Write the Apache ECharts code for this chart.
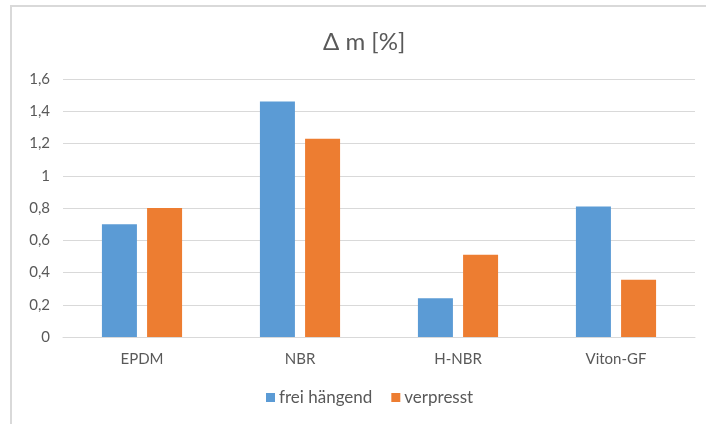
<!DOCTYPE html>
<html>
<head>
<meta charset="utf-8">
<script src="https://cdn.jsdelivr.net/npm/echarts@6/dist/echarts.min.js"></script>
<style>
  html, body { margin: 0; padding: 0; background: #fff; }
  #chart { width: 706px; height: 424px; }
</style>
</head>
<body>
<div id="chart"></div>
<script>
// Materials and measured mass change (%)
const categories = ['EPDM', 'NBR', 'H-NBR', 'Viton-GF'];
const freiHaengend = [0.70, 1.46, 0.24, 0.81];
const verpresst = [0.80, 1.23, 0.51, 0.355];
const seriesNames = ['frei hängend', 'verpresst'];
const titleText = 'Δ m [%]';

const FONT = 'Lato, "Open Sans", sans-serif';
const TEXT = '#595959';

const chart = echarts.init(document.getElementById('chart'), null, { renderer: 'canvas' });

chart.setOption({
  animation: false,
  backgroundColor: '#ffffff',
  title: {
    text: titleText,
    left: 318,
    top: 25,
    textStyle: { fontFamily: FONT, fontSize: 24, fontWeight: 'normal', color: TEXT }
  },
  legend: {
    data: seriesNames,
    bottom: 13,
    left: 261,
    icon: 'rect',
    itemWidth: 9,
    itemHeight: 9,
    itemGap: 19,
    textStyle: { fontFamily: FONT, fontSize: 17, color: TEXT, padding: [0, 0, 0, -1] }
  },
  grid: { left: 63, right: 11, top: 79, bottom: 87 },
  xAxis: {
    type: 'category',
    data: categories,
    axisTick: { show: false },
    axisLine: { lineStyle: { color: '#d9d9d9', width: 1 } },
    axisLabel: { fontFamily: FONT, fontSize: 15, color: TEXT, margin: 15 }
  },
  yAxis: {
    type: 'value',
    min: 0,
    max: 1.6,
    interval: 0.2,
    axisLine: { show: false },
    axisTick: { show: false },
    splitLine: { lineStyle: { color: '#d9d9d9', width: 1 } },
    axisLabel: {
      fontFamily: FONT, fontSize: 15, color: TEXT, margin: 13,
      formatter: v => String(Math.round(v * 10) / 10).replace('.', ',')
    }
  },
  series: [
    {
      name: seriesNames[0], type: 'bar', data: freiHaengend,
      barWidth: 35, barGap: '29%',
      itemStyle: { color: '#5b9bd5' }
    },
    {
      name: seriesNames[1], type: 'bar', data: verpresst,
      barWidth: 35, barGap: '29%',
      itemStyle: { color: '#ed7d31' }
    }
  ],
  graphic: [
    { type: 'line', shape: { x1: 11, y1: 5, x2: 11, y2: 424 }, style: { stroke: '#d9d9d9', lineWidth: 2 }, silent: true },
    { type: 'line', shape: { x1: 10, y1: 6, x2: 706, y2: 6 }, style: { stroke: '#d9d9d9', lineWidth: 2 }, silent: true }
  ]
});
</script>
</body>
</html>
